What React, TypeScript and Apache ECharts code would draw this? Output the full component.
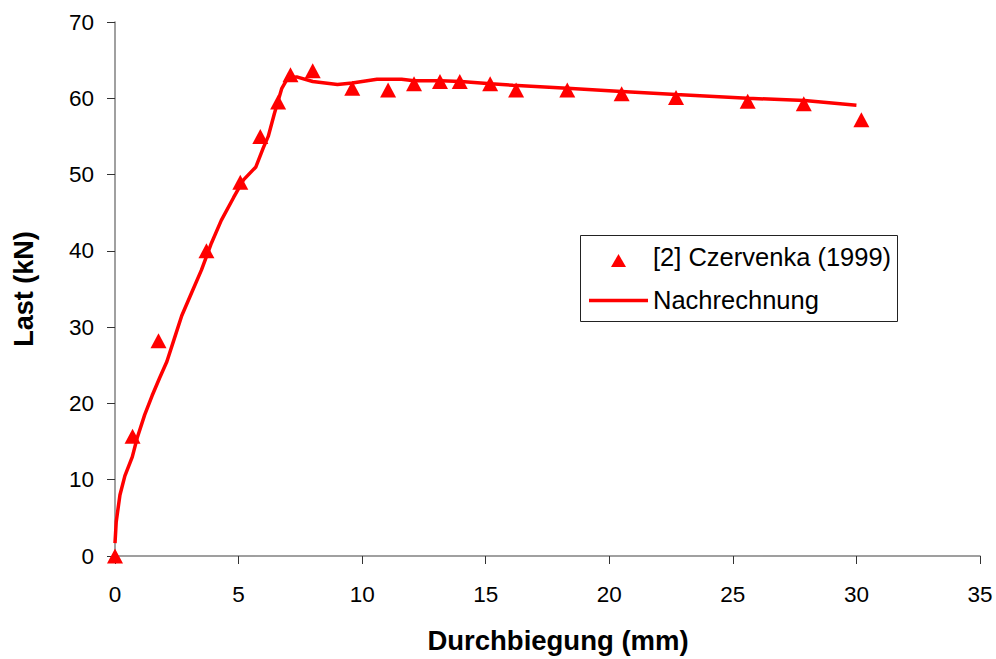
import React, { useEffect, useRef } from "react";
import * as echarts from "echarts";

const xTicks = [0, 5, 10, 15, 20, 25, 30, 35];
const yTicks = [0, 10, 20, 30, 40, 50, 60, 70];

const seriesNames = ["[2] Czervenka (1999)", "Nachrechnung"];

const testX = [0, 0.71, 1.76, 3.7, 5.07, 5.88, 6.6, 7.1, 8.0, 9.6, 11.05, 12.1, 13.15, 13.95, 15.18, 16.23, 18.3, 20.5, 22.7, 25.6, 27.87, 30.2];
const testY = [0, 15.7, 28.2, 40, 49, 55, 59.5, 63.1, 63.6, 61.3, 61.1, 61.9, 62.2, 62.2, 61.9, 61.1, 61.1, 60.6, 60.1, 59.6, 59.3, 57.2];

const calcX = [0, 0.05, 0.2, 0.4, 0.7, 0.9, 1.2, 1.5, 1.8, 2.1, 2.4, 2.7, 3.1, 3.5, 3.9, 4.3, 4.8, 5.2, 5.7, 6.0, 6.2, 6.45, 6.75, 7.0, 7.35, 8.0, 9.0, 9.6, 10.6, 11.6, 12.1, 13.2, 14.0, 15.2, 16.1, 18.3, 20.5, 22.7, 25.6, 27.9, 30.0];
const calcY = [1.7, 4.5, 8, 10.5, 13, 15.5, 18.5, 21, 23.3, 25.5, 28.5, 31.5, 34.5, 37.5, 41, 44, 47, 49.3, 51, 53.5, 55, 58, 61.3, 62.7, 62.8, 62.2, 61.8, 62, 62.5, 62.5, 62.3, 62.3, 62.2, 61.9, 61.7, 61.3, 60.9, 60.5, 60, 59.7, 59.1];

const FONT = "'Liberation Sans', Arial, sans-serif";

export default function App() {
  const ref = useRef<HTMLDivElement>(null);
  useEffect(() => {
    if (!ref.current) return;
    const chart = echarts.init(ref.current, undefined, { renderer: "svg" });
    chart.setOption({
      animation: false,
      backgroundColor: "#ffffff",
      grid: { left: 115, right: 16, top: 22, bottom: 98, containLabel: false },
      xAxis: {
        type: "value",
        min: xTicks[0],
        max: xTicks[xTicks.length - 1],
        interval: 5,
        name: "Durchbiegung (mm)",
        nameLocation: "middle",
        nameGap: 70,
        nameTextStyle: { fontFamily: FONT, fontSize: 27.5, fontWeight: "bold", color: "#000", padding: [0, 0, 0, 21] },
        axisLine: { show: true, lineStyle: { color: "#808080", width: 1.5 } },
        axisTick: { show: true, length: 8, lineStyle: { color: "#333", width: 1 } },
        axisLabel: { fontFamily: FONT, fontSize: 22.5, color: "#000", margin: 27 },
        splitLine: { show: false },
      },
      yAxis: {
        type: "value",
        min: yTicks[0],
        max: yTicks[yTicks.length - 1],
        interval: 10,
        name: "Last (kN)",
        nameLocation: "middle",
        nameGap: 78,
        nameTextStyle: { fontFamily: FONT, fontSize: 27, fontWeight: "bold", color: "#000" },
        axisLine: { show: true, lineStyle: { color: "#808080", width: 1.5 } },
        axisTick: { show: true, length: 8, lineStyle: { color: "#333", width: 1 } },
        axisLabel: { fontFamily: FONT, fontSize: 22.5, color: "#000", margin: 21 },
        splitLine: { show: false },
      },
      series: [
        {
          name: seriesNames[1],
          type: "line",
          data: calcX.map((x, i) => [x, calcY[i]]),
          showSymbol: false,
          symbol: "none",
          lineStyle: { color: "#ff0000", width: 3.5 },
          z: 2,
        },
        {
          name: seriesNames[0],
          type: "scatter",
          data: testX.map((x, i) => [x, testY[i]]),
          symbol: "triangle",
          symbolSize: [16, 15],
          itemStyle: { color: "#ff0000", opacity: 1 },
          clip: false,
          z: 3,
        },
      ],
      graphic: [
        {
          type: "rect",
          shape: { x: 580.5, y: 235.5, width: 317, height: 86 },
          style: { fill: "#ffffff", stroke: "#222", lineWidth: 1 },
          z: 10,
        },
        {
          type: "polygon",
          shape: { points: [[618.5, 254], [611, 267], [626, 267]] },
          style: { fill: "#ff0000" },
          z: 11,
        },
        {
          type: "text",
          x: 653,
          y: 257,
          style: { text: seriesNames[0], fontFamily: FONT, fontSize: 25.5, fill: "#000", verticalAlign: "middle", align: "left" },
          z: 11,
        },
        {
          type: "line",
          shape: { x1: 589, y1: 300.5, x2: 648, y2: 300.5 },
          style: { stroke: "#ff0000", lineWidth: 3.5 },
          z: 11,
        },
        {
          type: "text",
          x: 653,
          y: 300,
          style: { text: seriesNames[1], fontFamily: FONT, fontSize: 25.5, fill: "#000", verticalAlign: "middle", align: "left" },
          z: 11,
        },
      ],
    });
    return () => chart.dispose();
  }, []);
  return (
    <div
      ref={ref}
      style={{ position: "fixed", left: 0, top: 0, width: 996, height: 659, background: "#fff" }}
    />
  );
}
